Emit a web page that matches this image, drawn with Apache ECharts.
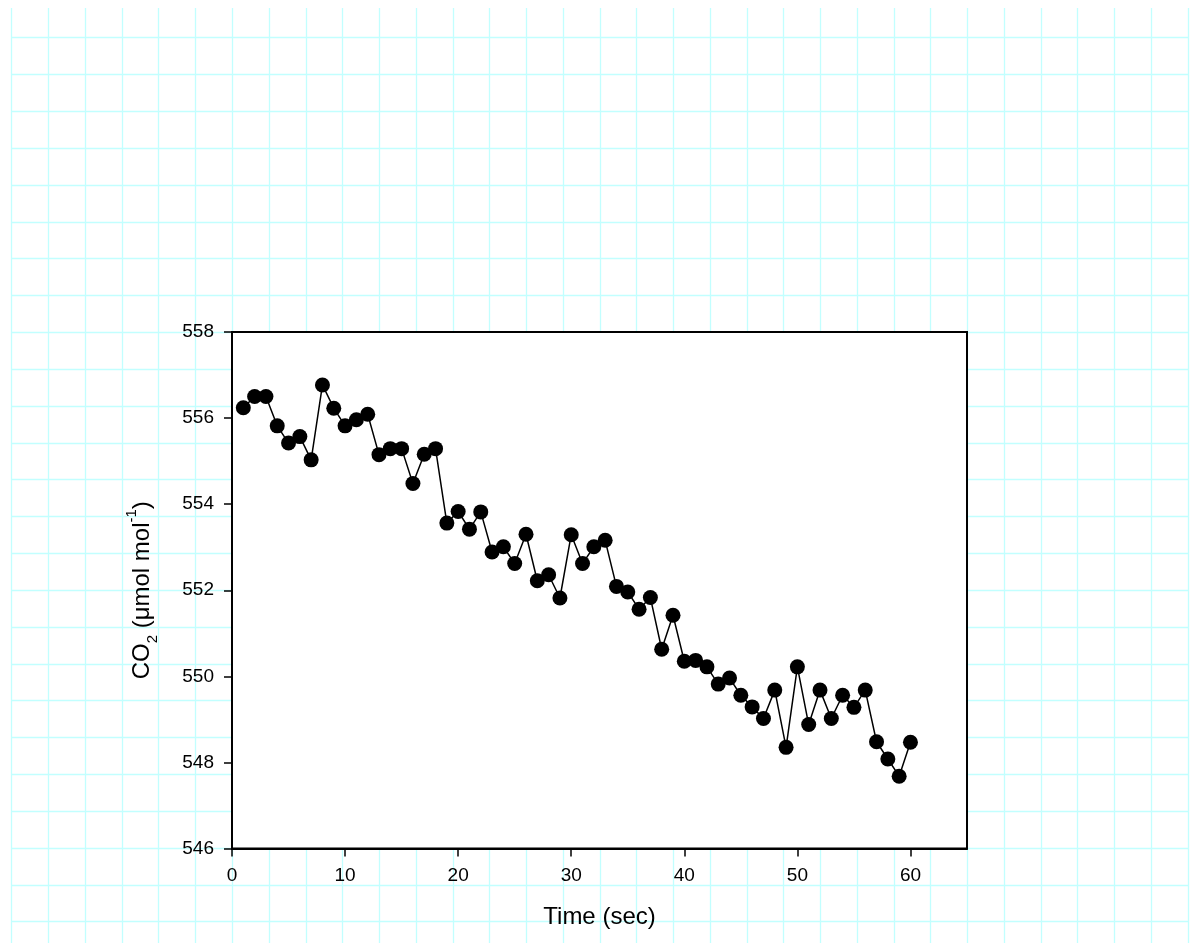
<!DOCTYPE html>
<html>
<head>
<meta charset="utf-8">
<script src="https://cdn.jsdelivr.net/npm/echarts@6/dist/echarts.min.js"></script>
<style>
html,body{margin:0;padding:0;background:#fff;}
#chart{width:1196px;height:943px;}
</style>
</head>
<body>
<div id="chart"></div>
<script>
// ---- data ----
const timeSec = [1,2,3,4,5,6,7,8,9,10,11,12,13,14,15,16,17,18,19,20,
  21,22,23,24,25,26,27,28,29,30,31,32,33,34,35,36,37,38,39,40,
  41,42,43,44,45,46,47,48,49,50,51,52,53,54,55,56,57,58,59,60];
const co2 = [556.24,556.50,556.50,555.82,555.42,555.57,555.03,556.77,556.23,555.82,
  555.96,556.09,555.15,555.29,555.29,554.48,555.16,555.29,553.56,553.83,
  553.42,553.82,552.89,553.01,552.62,553.30,552.22,552.36,551.82,553.29,
  552.62,553.01,553.16,552.09,551.96,551.56,551.83,550.63,551.42,550.35,
  550.37,550.22,549.82,549.96,549.56,549.29,549.02,549.68,548.35,550.22,
  548.88,549.68,549.02,549.56,549.28,549.68,548.48,548.08,547.68,548.47];
const xTicks = [0,10,20,30,40,50,60];
const yTicks = [546,548,550,552,554,556,558];
const xLabel = 'Time (sec)';
const yLabelParts = ['CO', '2', ' (μmol mol', '-1', ')'];

const points = timeSec.map((t, i) => [t, co2[i]]);
const FONT = '"Liberation Sans", Arial, sans-serif';
const CYAN = '#c2ffff';

const chart = echarts.init(document.getElementById('chart'), null, {renderer: 'canvas'});
chart.setOption({
  animation: false,
  backgroundColor: '#fff',
  textStyle: {fontFamily: FONT, color: '#000'},
  grid: [
    {left: 232, right: 229, top: 332, bottom: 94.5, show: true,
     backgroundColor: '#fff', borderColor: '#000', borderWidth: 2, z: 1},
    // background graph paper: vertical lines
    {left: 11.7, top: 8, width: 1176.3, height: 935, show: false, z: 0},
    // background graph paper: horizontal lines
    {left: 12, top: 37.7, width: 1176, height: 884, show: false, z: 0}
  ],
  xAxis: [
    {gridIndex: 0, type: 'value', min: 0, max: 65, interval: 10, z: 5,
     axisLine: {show: true, onZero: false, lineStyle: {color: '#000', width: 2}},
     axisTick: {show: true, inside: false, length: 8, lineStyle: {color: '#000', width: 1.5}, customValues: xTicks},
     axisLabel: {show: true, margin: 18, fontSize: 19, color: '#000', fontFamily: FONT, customValues: xTicks},
     splitLine: {show: false},
     name: xLabel, nameLocation: 'middle', nameGap: 57,
     nameTextStyle: {fontSize: 24, color: '#000', fontFamily: FONT}},
    {gridIndex: 1, type: 'value', min: 0, max: 32, interval: 1, z: 0,
     axisLine: {show: false}, axisTick: {show: false}, axisLabel: {show: false},
     splitLine: {show: true, lineStyle: {color: CYAN, width: 1.3}}},
    {gridIndex: 2, type: 'value', min: 0, max: 1, interval: 1, show: false}
  ],
  yAxis: [
    {gridIndex: 0, type: 'value', min: 546, max: 558, interval: 2, z: 5,
     axisLine: {show: true, onZero: false, lineStyle: {color: '#000', width: 2}},
     axisTick: {show: true, inside: false, length: 8, lineStyle: {color: '#000', width: 1.5}},
     axisLabel: {show: true, margin: 18, fontSize: 19, color: '#000', fontFamily: FONT},
     splitLine: {show: false},
     name: '{a|' + yLabelParts[0] + '}{b|' + yLabelParts[1] + '}{a|' + yLabelParts[2] + '}{c|' + yLabelParts[3] + '}{a|' + yLabelParts[4] + '}',
     nameLocation: 'middle', nameRotate: 90, nameGap: 72,
     nameTextStyle: {
       color: '#000', fontFamily: FONT,
       rich: {
         a: {fontSize: 24, lineHeight: 36, fontFamily: FONT, color: '#000', verticalAlign: 'middle'},
         b: {fontSize: 15, lineHeight: 22, fontFamily: FONT, color: '#000', verticalAlign: 'bottom'},
         c: {fontSize: 15, lineHeight: 14, fontFamily: FONT, color: '#000', verticalAlign: 'top'}
       }
     }},
    {gridIndex: 1, type: 'value', min: 0, max: 1, interval: 1, show: false},
    {gridIndex: 2, type: 'value', min: 0, max: 24, interval: 1, z: 0,
     axisLine: {show: false}, axisTick: {show: false}, axisLabel: {show: false},
     splitLine: {show: true, lineStyle: {color: CYAN, width: 1.3}}}
  ],
  series: [{
    type: 'line',
    xAxisIndex: 0, yAxisIndex: 0,
    data: points,
    z: 6,
    symbol: 'circle',
    symbolSize: 15,
    showSymbol: true,
    itemStyle: {color: '#000', borderWidth: 0},
    lineStyle: {color: '#000', width: 1.5},
    emphasis: {disabled: true}
  }]
});
</script>
</body>
</html>
